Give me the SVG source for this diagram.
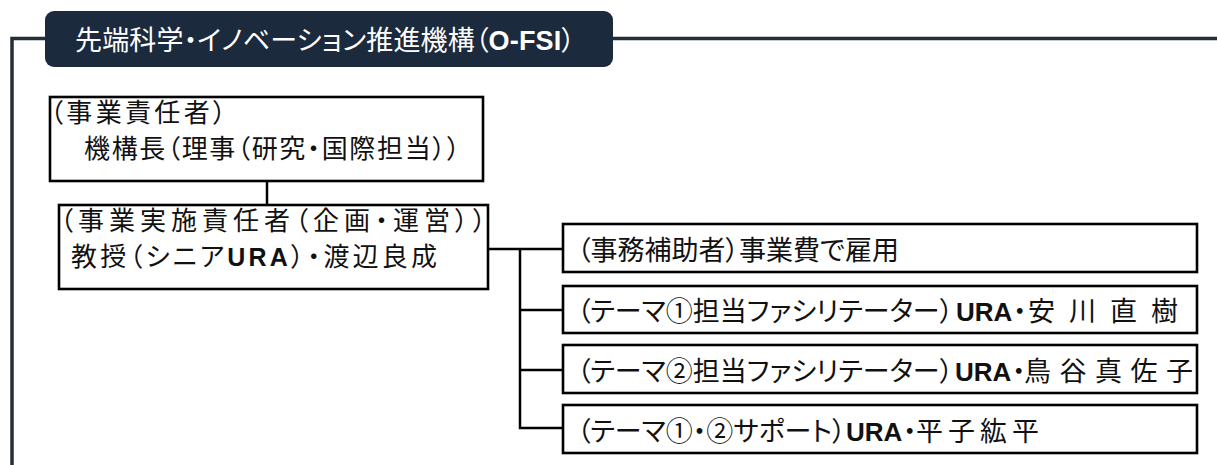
<svg xmlns="http://www.w3.org/2000/svg" width="1217" height="465" viewBox="0 0 1217 465">
<style>
.jp{font-family:"Noto Sans CJK JP","Noto Sans",sans-serif;fill:#111;font-feature-settings:"palt";}
.l{font-size:26px;}
.r{font-size:27px;}
.b{font-family:"Liberation Sans",Arial,sans-serif;font-weight:bold;}
.box{fill:#fff;stroke:#000;stroke-width:2.6;}
.ln{fill:none;stroke:#000;stroke-width:2.5;}
.frame{fill:none;stroke:#232e3a;stroke-width:3.5;}
</style>
<rect width="1217" height="465" fill="#fff"/>
<g id="frame">
<path class="frame" d="M12 465 V38.5 H46 M612 38.5 H1217"/>
</g>
<g id="title">
<rect x="45" y="11" width="568" height="56" rx="9" fill="#1b2a3d"/>
<text class="jp" x="75" y="50" font-size="27" textLength="500" lengthAdjust="spacing" style="fill:#fff">先端科学・イノベーション推進機構（<tspan class="b" style="fill:#fff">O-FSI</tspan>）</text>
</g>
<g id="connectors">
<path class="ln" d="M267 181 V205"/>
<path class="ln" d="M488 249 H563 M520 249 V428 H563 M520 310 H563 M520 370 H563"/>
</g>
<g id="node-chief">
<rect class="box" x="50" y="97" width="433" height="84"/>
<text class="jp l" x="50" y="122" textLength="176" lengthAdjust="spacing">（事業責任者）</text>
<text class="jp l" x="84" y="158" textLength="376" lengthAdjust="spacing">機構長（理事（研究・国際担当））</text>
</g>
<g id="node-exec">
<rect class="box" x="59" y="205" width="429" height="84"/>
<text class="jp l" x="60" y="230" textLength="426" lengthAdjust="spacing">（事業実施責任者（企画・運営））</text>
<text class="jp l" x="71" y="266" textLength="366" lengthAdjust="spacing">教授（シニア<tspan class="b" style="font-size:25px">URA</tspan>）・渡辺良成</text>
</g>
<g id="node-assist">
<rect class="box" x="563" y="224" width="634" height="48"/>
<text class="jp r" x="577" y="260">（事務補助者）事業費で雇用</text>
</g>
<g id="node-theme1">
<rect class="box" x="563" y="286" width="634" height="47"/>
<text class="jp r" x="577" y="321">（テーマ①担当ファシリテーター）<tspan class="b" x="956" style="font-size:26px">URA</tspan><tspan x="1013">・</tspan><tspan x="1028" letter-spacing="14">安川直樹</tspan></text>
</g>
<g id="node-theme2">
<rect class="box" x="563" y="345" width="634" height="48"/>
<text class="jp r" x="577" y="381">（テーマ②担当ファシリテーター）<tspan class="b" x="955" style="font-size:26px">URA</tspan><tspan x="1012">・</tspan><tspan x="1024" letter-spacing="8.5">鳥谷真佐子</tspan></text>
</g>
<g id="node-support">
<rect class="box" x="563" y="405" width="634" height="48"/>
<text class="jp r" x="577" y="441">（テーマ①・②サポート）<tspan class="b" x="846" style="font-size:26px">URA</tspan><tspan x="903">・</tspan><tspan x="916" letter-spacing="5">平子紘平</tspan></text>
</g>
</svg>
